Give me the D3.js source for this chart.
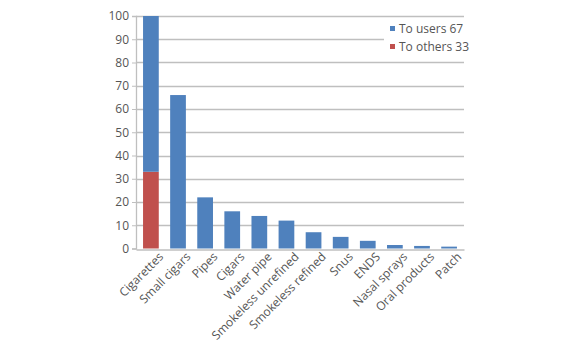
<!DOCTYPE html>
<html lang="en">
<head>
    <meta charset="UTF-8">
    <title>Tobacco products</title>
    <script src="https://d3js.org/d3.v7.min.js"></script>
    <style>
        body { margin: 0; background: #fff; font-family: "Open Sans", "Noto Sans", sans-serif; }
    </style>
</head>
<body>
<div id="chart"></div>
<script>
// Dati
const categories = ["Cigarettes", "Small cigars", "Pipes", "Cigars", "Water pipe",
    "Smokeless unrefined", "Smokeless refined", "Snus", "ENDS", "Nasal sprays",
    "Oral products", "Patch"];
const toOthers = [33, 0, 0, 0, 0, 0, 0, 0, 0, 0, 0, 0];
const toUsers = [67, 66, 22, 16, 14, 12, 7, 5, 3.3, 1.5, 1.1, 0.8];
const seriesNames = ["To users 67", "To others 33"];
const yTicks = [0, 10, 20, 30, 40, 50, 60, 70, 80, 90, 100];

const width = 570, height = 353;
const margin = { left: 136, right: 106, top: 16, bottom: 105 };
const blue = "#4f81bd", red = "#c0504d", grid = "#bfbfbf", textCol = "#555555";

const svg = d3.select("#chart").append("svg")
    .attr("width", width)
    .attr("height", height);

const x = d3.scaleBand()
    .domain(categories)
    .range([margin.left, width - margin.right])
    .paddingInner(0.42)
    .paddingOuter(0.26);

const y = d3.scaleLinear()
    .domain([0, 100])
    .range([height - margin.bottom + 0.5, margin.top]);

// griglia
svg.append("g")
    .selectAll("line")
    .data(yTicks.slice(1))
    .join("line")
    .attr("x1", margin.left)
    .attr("x2", width - margin.right)
    .attr("y1", d => Math.round(y(d)) + 0.5)
    .attr("y2", d => Math.round(y(d)) + 0.5)
    .attr("stroke", grid)
    .attr("stroke-width", 1.3);

// barre
const rows = categories.map((c, i) => ({ cat: c, others: toOthers[i], users: toUsers[i] }));
const stack = d3.stack().keys(["others", "users"])(rows);
const colors = { others: red, users: blue };

svg.append("g")
    .selectAll("g")
    .data(stack)
    .join("g")
    .attr("fill", d => colors[d.key])
    .selectAll("rect")
    .data(d => d)
    .join("rect")
    .attr("x", d => x(d.data.cat))
    .attr("width", x.bandwidth())
    .attr("y", d => y(d[1]))
    .attr("height", d => y(d[0]) - y(d[1]));

// asse Y
const yAxis = svg.append("g")
    .attr("transform", `translate(${margin.left},0)`)
    .call(d3.axisLeft(y).tickValues(yTicks).tickSize(4).tickPadding(3));
yAxis.select(".domain").attr("stroke", grid).attr("stroke-width", 1.3);
yAxis.selectAll(".tick line").attr("stroke", grid);
yAxis.selectAll("text")
    .attr("fill", textCol)
    .style("font-size", "12px")
    .style("font-family", "'Open Sans', sans-serif");

// asse X
const x0 = y(0);
const xAxis = svg.append("g")
    .attr("transform", `translate(0,${Math.round(x0) + 0.5})`)
    .call(d3.axisBottom(x).tickSize(0).tickPadding(6));
xAxis.select(".domain").attr("stroke", grid).attr("stroke-width", 1.3);
xAxis.selectAll("text")
    .attr("fill", textCol)
    .style("font-size", "12px")
    .style("font-family", "'Open Sans', sans-serif")
    .attr("text-anchor", "end")
    .attr("dy", "0.75em")
    .attr("dx", "0.3em")
    .attr("transform", "rotate(-45)");

// legenda
const legend = svg.append("g");
legend.append("rect")
    .attr("x", 384).attr("y", 20)
    .attr("width", 82).attr("height", 36)
    .attr("fill", "#fff");
const items = legend.selectAll("g.item")
    .data(seriesNames)
    .join("g")
    .attr("class", "item")
    .attr("transform", (d, i) => `translate(390,${29 + i * 18})`);
items.append("rect")
    .attr("x", 0).attr("y", -3)
    .attr("width", 5).attr("height", 5)
    .attr("fill", (d, i) => i === 0 ? blue : red);
items.append("text")
    .attr("x", 9)
    .attr("dy", "0.35em")
    .attr("fill", textCol)
    .style("font-size", "12px")
    .style("font-family", "'Open Sans', sans-serif")
    .text(d => d);
</script>
</body>
</html>
